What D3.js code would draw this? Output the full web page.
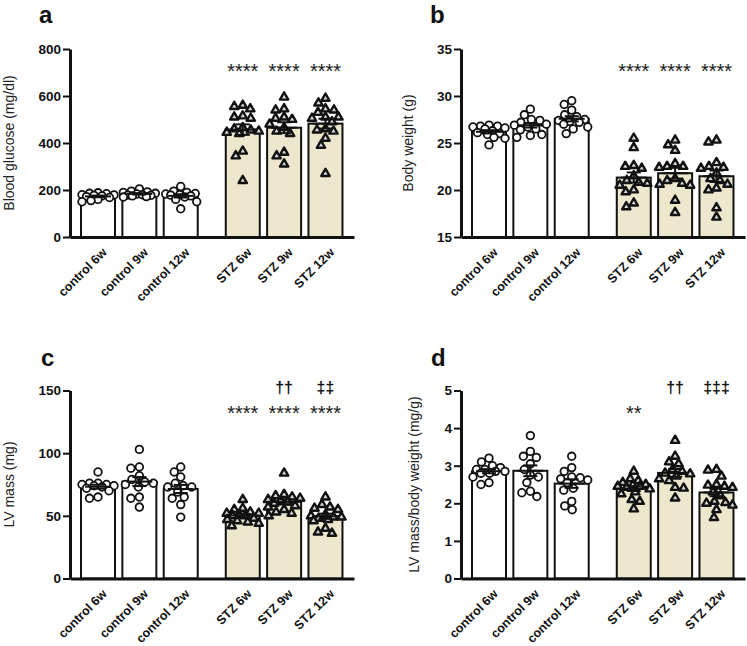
<!DOCTYPE html>
<html>
<head>
<meta charset="utf-8">
<script src="https://cdn.jsdelivr.net/npm/d3@7/dist/d3.min.js"></script>
<style>
  html, body { margin: 0; padding: 0; background: #fff; }
  svg { display: block; }
  text { font-family: "Liberation Sans", Arial, Helvetica, sans-serif; }
</style>
</head>
<body>
<svg id="chart" width="747" height="646"></svg>
<script>
// ---------------- DATA ----------------
const categories = ["control 6w", "control 9w", "control 12w", "STZ 6w", "STZ 9w", "STZ 12w"];
const groupType = ["control", "control", "control", "STZ", "STZ", "STZ"];

const glucoseValues = [
  [186, 188, 184, 180, 179, 177, 175, 172, 168, 160, 155, 150],
  [205, 195, 192, 190, 186, 183, 180, 178, 177, 175, 172, 170],
  [215, 195, 190, 185, 183, 180, 178, 175, 170, 160, 150, 120],
  [560, 545, 555, 515, 505, 510, 465, 460, 455, 450, 445, 440, 365, 345, 240],
  [595, 540, 545, 510, 505, 500, 480, 465, 450, 440, 360, 345, 310],
  [590, 570, 545, 540, 530, 510, 510, 505, 490, 460, 455, 450, 420, 390, 270]
];
const bodyWeightValues = [
  [26.8, 26.9, 26.7, 26.8, 26.6, 26.5, 26.3, 26.1, 26.0, 25.9, 25.6, 25.5, 24.8],
  [28.6, 28.0, 27.5, 27.4, 27.2, 27.0, 26.9, 26.7, 26.5, 26.4, 25.9, 25.8, 25.6],
  [29.5, 29.1, 28.5, 28.0, 27.8, 27.5, 27.4, 27.3, 27.2, 27.0, 26.7, 26.5, 26.0],
  [25.5, 24.5, 22.6, 22.5, 22.3, 21.5, 21.0, 20.8, 20.7, 20.5, 20.0, 19.8, 18.6, 18.2],
  [25.3, 24.8, 24.2, 22.8, 22.5, 22.4, 22.5, 21.2, 21.0, 20.7, 20.6, 20.5, 18.9, 17.6],
  [25.3, 25.1, 22.9, 22.5, 22.4, 22.3, 21.8, 21.2, 21.0, 20.6, 20.2, 20.0, 18.1, 17.1]
];
const lvMassValues = [
  [85, 76, 76, 75, 75, 74, 74, 73, 72, 70, 65, 64],
  [103, 89, 88, 82, 79, 77, 76, 75, 73, 65, 64, 57],
  [89, 85, 81, 76, 74, 73, 73, 69, 65, 64, 59, 49],
  [63, 56, 55, 53, 52, 52, 51, 50, 50, 48, 47, 46, 45, 44, 42],
  [84, 67, 66, 65, 64, 63, 62, 61, 60, 58, 57, 55, 53, 52, 50],
  [65, 59, 57, 56, 55, 51, 50, 49, 49, 48, 47, 46, 40, 37, 36]
];
const lvRatioValues = [
  [3.2, 3.1, 3.0, 2.95, 2.9, 2.9, 2.85, 2.85, 2.8, 2.8, 2.7, 2.55, 2.5],
  [3.8, 3.38, 3.25, 3.22, 3.05, 2.9, 2.75, 2.7, 2.55, 2.32, 2.28, 2.18],
  [3.25, 2.95, 2.85, 2.7, 2.68, 2.65, 2.62, 2.55, 2.4, 2.35, 2.05, 1.93, 1.83],
  [2.85, 2.65, 2.6, 2.55, 2.5, 2.48, 2.45, 2.45, 2.42, 2.38, 2.3, 2.25, 2.1, 2.05, 1.85],
  [3.67, 3.25, 3.1, 3.05, 2.9, 2.85, 2.8, 2.78, 2.72, 2.65, 2.6, 2.42, 2.4, 2.14],
  [2.9, 2.88, 2.72, 2.5, 2.48, 2.45, 2.42, 2.3, 2.2, 2.05, 2.02, 2.0, 1.95, 1.83, 1.62]
];

const glucoseTicks = [0, 200, 400, 600, 800];
const bodyWeightTicks = [15, 20, 25, 30, 35];
const lvMassTicks = [0, 50, 100, 150];
const lvRatioTicks = [0, 1, 2, 3, 4, 5];

const glucoseStars = ["", "", "", "****", "****", "****"];
const bodyWeightStars = ["", "", "", "****", "****", "****"];
const lvMassStars = ["", "", "", "****", "****", "****"];
const lvRatioStars = ["", "", "", "**", "", ""];
const lvMassDaggers = ["", "", "", "", "\u2020\u2020", "\u2021\u2021"];
const lvRatioDaggers = ["", "", "", "", "\u2020\u2020", "\u2021\u2021\u2021"];

const panelLetters = ["a", "b", "c", "d"];
const yTitles = ["Blood glucose (mg/dl)", "Body weight (g)", "LV mass (mg)", "LV mass/body weight (mg/g)"];

// ---------------- LAYOUT ----------------
const panels = [
  { letter: panelLetters[0], title: yTitles[0], values: glucoseValues, ticks: glucoseTicks, stars: glucoseStars, daggers: null,
    ox: 70, top: 49, bottom: 237, letterX: 39, letterY: 23, titleX: 14 },
  { letter: panelLetters[1], title: yTitles[1], values: bodyWeightValues, ticks: bodyWeightTicks, stars: bodyWeightStars, daggers: null,
    ox: 461, top: 49, bottom: 237, letterX: 430, letterY: 23, titleX: 413 },
  { letter: panelLetters[2], title: yTitles[2], values: lvMassValues, ticks: lvMassTicks, stars: lvMassStars, daggers: lvMassDaggers,
    ox: 70, top: 390.5, bottom: 578.5, letterX: 41, letterY: 366, titleX: 14 },
  { letter: panelLetters[3], title: yTitles[3], values: lvRatioValues, ticks: lvRatioTicks, stars: lvRatioStars, daggers: lvRatioDaggers,
    ox: 461, top: 390.5, bottom: 578.5, letterX: 431, letterY: 366, titleX: 419 }
];

const svg = d3.select("#chart");
const barW = 34;
const pitch = 41.36;
const firstOffset = 28;
const axisLen = 284;
const slot = i => (i < 3 ? i : i + 0.5);
const beige = "#ede7cd";

// deterministic beeswarm constrained to the bar width
function beeswarm(vals, y, D, maxOff) {
  const order = vals.map((v, i) => i).sort((a, b) => vals[b] - vals[a]);
  const placed = [];
  const offs = new Array(vals.length);
  order.forEach(i => {
    const py = y(vals[i]);
    let best = 0, bestScore = -1;
    const steps = Math.floor(maxOff / 0.5);
    for (let k = 0; k <= 2 * steps; k++) {
      const cand = (k % 2 === 1 ? -1 : 1) * Math.ceil(k / 2) * 0.5;
      let md = Infinity;
      placed.forEach(p => { md = Math.min(md, Math.hypot(p.x - cand, p.y - py)); });
      if (md >= D) { best = cand; break; }
      if (md > bestScore + 0.01) { bestScore = md; best = cand; }
    }
    placed.push({ x: best, y: py });
    offs[i] = best;
  });
  return offs;
}

panels.forEach(p => {
  const g = svg.append("g");
  const dmin = p.ticks[0], dmax = p.ticks[p.ticks.length - 1];
  const y = d3.scaleLinear().domain([dmin, dmax]).range([p.bottom, p.top]);
  const x = d3.scaleLinear()
    .domain([-firstOffset / pitch, (axisLen - firstOffset) / pitch])
    .range([p.ox, p.ox + axisLen]);

  const stats = p.values.map(v => ({ mean: d3.mean(v), sem: d3.deviation(v) / Math.sqrt(v.length) }));

  // bars
  g.selectAll("rect.bar").data(categories).join("rect")
    .attr("class", "bar")
    .attr("x", (d, i) => x(slot(i)) - barW / 2)
    .attr("y", (d, i) => y(stats[i].mean))
    .attr("width", barW)
    .attr("height", (d, i) => y(dmin) - y(stats[i].mean))
    .attr("fill", (d, i) => groupType[i] === "STZ" ? beige : "#fff")
    .attr("stroke", "#111").attr("stroke-width", 2);

  // points + error bars
  categories.forEach((c, i) => {
    const vals = p.values[i];
    const offs = beeswarm(vals, y, 8.2, 16);
    const cx = x(slot(i));
    if (groupType[i] === "control") {
      g.selectAll(null).data(vals).join("circle")
        .attr("cx", (d, j) => cx + offs[j])
        .attr("cy", d => y(d))
        .attr("r", 3.8)
        .attr("fill", "#fff").attr("stroke", "#111").attr("stroke-width", 1.8);
    } else {
      const tri = d3.symbol().type(d3.symbolTriangle).size(30);
      g.selectAll(null).data(vals).join("path")
        .attr("d", tri)
        .attr("transform", (d, j) => `translate(${cx + offs[j]},${y(d)})`)
        .attr("fill", "#d8d8d8").attr("stroke", "#111").attr("stroke-width", 2.4)
        .attr("stroke-linejoin", "round");
    }
    const s = stats[i];
    const eb = g.append("g").attr("stroke", "#111").attr("stroke-width", 2);
    eb.append("line").attr("x1", cx).attr("x2", cx).attr("y1", y(s.mean - s.sem)).attr("y2", y(s.mean + s.sem));
    eb.append("line").attr("x1", cx - 7).attr("x2", cx + 7).attr("y1", y(s.mean + s.sem)).attr("y2", y(s.mean + s.sem));
    eb.append("line").attr("x1", cx - 7).attr("x2", cx + 7).attr("y1", y(s.mean - s.sem)).attr("y2", y(s.mean - s.sem));
    eb.append("line").attr("x1", cx - 13).attr("x2", cx + 13).attr("y1", y(s.mean)).attr("y2", y(s.mean));
  });

  // y axis
  const yAxis = g.append("g").attr("transform", `translate(${p.ox},0)`)
    .call(d3.axisLeft(y).tickValues(p.ticks).tickFormat(d => String(d)).tickSize(7).tickSizeOuter(0).tickPadding(2));
  yAxis.select(".domain").attr("stroke", "#111").attr("stroke-width", 3);
  yAxis.selectAll(".tick line").attr("stroke", "#111").attr("stroke-width", 2);
  yAxis.selectAll(".tick text").attr("fill", "#111")
    .style("font-size", "13.5px").style("font-weight", "bold")
    .style("font-family", "'Liberation Sans', Arial, sans-serif");

  // x axis
  const xAxis = g.append("g").attr("transform", `translate(0,${p.bottom})`)
    .call(d3.axisBottom(x).tickValues(categories.map((c, i) => slot(i)))
      .tickFormat((d, i) => categories[i]).tickSize(0).tickSizeOuter(0));
  xAxis.select(".domain").attr("stroke", "#111").attr("stroke-width", 3);
  xAxis.selectAll(".tick text")
    .attr("fill", "#111")
    .attr("x", 0).attr("y", 0).attr("dy", "0.35em")
    .attr("text-anchor", "end")
    .attr("transform", "translate(6,13) rotate(-45)")
    .style("font-size", "12.5px").style("font-weight", "bold")
    .style("font-family", "'Liberation Sans', Arial, sans-serif");

  // significance marks
  g.selectAll("text.star").data(p.stars).join("text")
    .attr("class", "star")
    .attr("x", (d, i) => x(slot(i)))
    .attr("y", p.top + 29)
    .attr("text-anchor", "middle")
    .attr("fill", "#1a1a1a")
    .style("font-size", "20px")
    .text(d => d);
  if (p.daggers) {
    g.selectAll("text.dag").data(p.daggers).join("text")
      .attr("class", "dag")
      .attr("x", (d, i) => x(slot(i)))
      .attr("y", p.top + 2)
      .attr("text-anchor", "middle")
      .attr("fill", "#111")
      .style("font-size", "16px").style("font-weight", "bold")
      .text(d => d);
  }

  // y title
  g.append("text")
    .attr("transform", `translate(${p.titleX},${(p.top + p.bottom) / 2}) rotate(-90)`)
    .attr("text-anchor", "middle")
    .attr("fill", "#222")
    .style("font-size", "14px")
    .text(p.title);

  // panel letter
  g.append("text")
    .attr("x", p.letterX).attr("y", p.letterY)
    .attr("fill", "#111")
    .style("font-size", "24px").style("font-weight", "bold")
    .text(p.letter);
});
</script>
</body>
</html>
